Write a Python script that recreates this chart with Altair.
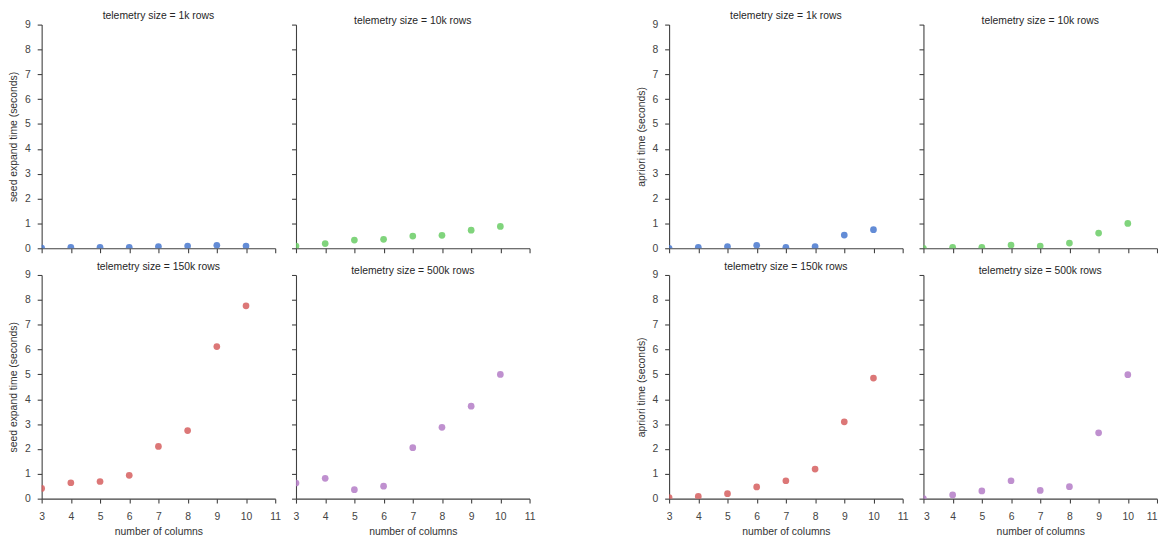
import altair as alt
import pandas as pd

cols = [3, 4, 5, 6, 7, 8, 9, 10]
sizes = ["1k", "10k", "150k", "500k"]
colors = ["#4878CF", "#6ACC65", "#D65F5F", "#B47CC7"]

seed_1k = [0.01, 0.04, 0.04, 0.04, 0.07, 0.09, 0.12, 0.09]
seed_10k = [0.09, 0.19, 0.33, 0.36, 0.49, 0.52, 0.73, 0.88]
seed_150k = [0.41, 0.64, 0.69, 0.94, 2.10, 2.74, 6.12, 7.76]
seed_500k = [0.63, 0.82, 0.36, 0.50, 2.05, 2.87, 3.72, 5.00]

apriori_1k = [0.0, 0.04, 0.07, 0.12, 0.04, 0.07, 0.53, 0.75]
apriori_10k = [0.0, 0.04, 0.04, 0.13, 0.09, 0.21, 0.61, 1.00]
apriori_150k = [0.04, 0.09, 0.20, 0.47, 0.72, 1.19, 3.09, 4.85]
apriori_500k = [0.0, 0.15, 0.31, 0.72, 0.33, 0.48, 2.65, 4.99]

series = {
    "seed": dict(zip(sizes, [seed_1k, seed_10k, seed_150k, seed_500k])),
    "apriori": dict(zip(sizes, [apriori_1k, apriori_10k, apriori_150k, apriori_500k])),
}
ytitles = {"seed": "seed expand time (seconds)", "apriori": "apriori time (seconds)"}

FONT = "Liberation Sans"
W, H = 236, 226


def panel(metric, idx, last=False):
    size = sizes[idx]
    df = pd.DataFrame({"cols": cols, "time": series[metric][size]})
    show_x = idx >= 2
    show_y = idx % 2 == 0
    xkw = dict(values=list(range(3, 12)), labels=show_x,
               tickSize=4.5, labelPadding=9, titlePadding=4, minExtent=0,
               labelFlush=bool(last))
    xkw["title"] = "number of columns" if show_x else None
    xaxis = alt.Axis(**xkw)
    yaxis = alt.Axis(values=list(range(0, 10)), labels=show_y,
                     title=ytitles[metric] if show_y else None,
                     tickSize=4.5, labelPadding=7, titlePadding=6,
                     minExtent=0)
    return alt.Chart(df).mark_circle(size=46, opacity=0.85, clip=True,
                                     color=colors[idx]).encode(
        x=alt.X("cols:Q", scale=alt.Scale(domain=[3, 11], nice=False, zero=False), axis=xaxis),
        y=alt.Y("time:Q", scale=alt.Scale(domain=[0, 9], nice=False), axis=yaxis),
    ).properties(
        width=W, height=H,
        title=alt.TitleParams(f"telemetry size = {size} rows", fontSize=10.5,
                              fontWeight="normal", color="#262626", offset=-2, font=FONT),
    )


def group(metric, last_group=False):
    return alt.concat(*[panel(metric, i, last=(last_group and i == 3)) for i in range(4)],
                      columns=2, spacing={"row": 7, "column": 9})


chart = alt.hconcat(group("seed"), group("apriori", True), spacing=101).properties(
    padding=0
).configure_view(stroke=None).configure_axis(
    grid=False, domainColor="#404040", tickColor="#404040", domainWidth=1.1,
    tickWidth=1.1, labelColor="#444444", titleColor="#333333",
    labelFont=FONT, titleFont=FONT, labelFontSize=10.5, titleFontSize=10.5,
    titleFontWeight="normal",
).configure_title(anchor="middle")

chart.save("out.html", embed_options={"renderer": "svg", "actions": False})
